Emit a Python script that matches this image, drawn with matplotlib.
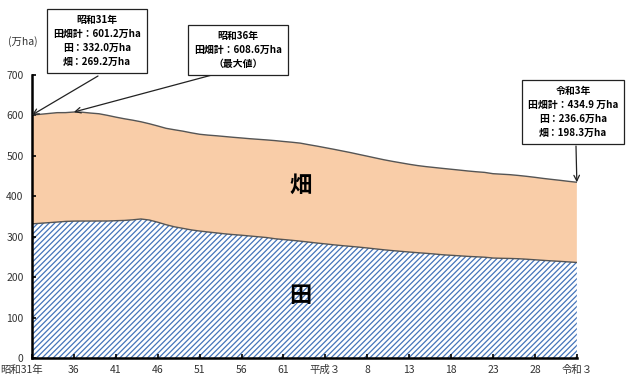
import matplotlib
matplotlib.use("Agg")
import matplotlib.pyplot as plt
from matplotlib.transforms import ScaledTranslation

plt.rcParams['font.family'] = ['Noto Sans CJK JP', 'DejaVu Sans']
plt.rcParams['hatch.linewidth'] = 0.9

# 年次 (昭和31年=1956 ～ 令和3年=2021)
years = list(range(1956, 2022))

# 田畑計 (万ha)
total = [601.2, 603.0, 605.0, 607.0, 607.1, 608.6, 608.1, 606.0, 604.3, 600.4,
         596.0, 592.0, 588.5, 584.5, 579.6, 574.1, 568.3, 564.7, 561.3, 557.2,
         553.6, 551.5, 549.9, 548.0, 546.1, 544.4, 542.6, 541.1, 539.6, 537.9,
         535.8, 533.9, 531.7, 527.9, 524.3, 520.4, 516.5, 512.4, 508.3, 503.8,
         499.4, 494.9, 490.5, 486.6, 483.0, 479.4, 476.2, 473.6, 471.4, 469.2,
         467.1, 465.0, 462.8, 460.9, 459.3, 456.1, 454.9, 453.7, 451.8, 449.6,
         447.1, 444.4, 442.0, 439.7, 437.2, 434.9]

# 田 (万ha)
paddy = [332.0, 333.5, 335.0, 336.5, 338.1, 338.8, 339.0, 339.0, 339.1, 339.1,
         339.9, 340.5, 342.0, 344.1, 341.5, 336.1, 329.9, 324.7, 320.9, 317.1,
         314.3, 311.9, 309.7, 307.4, 305.5, 303.9, 302.0, 300.1, 298.2, 295.2,
         293.3, 291.4, 289.3, 287.0, 284.6, 282.5, 280.2, 278.2, 276.4, 274.5,
         272.4, 270.1, 267.9, 265.9, 264.1, 262.4, 260.7, 259.2, 257.5, 255.6,
         254.3, 253.0, 251.6, 250.6, 249.6, 247.5, 246.9, 246.5, 245.8, 244.6,
         243.2, 241.8, 240.5, 239.3, 237.9, 236.6]

tick_years = list(range(1956, 2022, 5))
tick_labels = ['昭和31年', '36', '41', '46', '51', '56', '61', '平成３',
               '8', '13', '18', '23', '28', '令和３']

fig = plt.figure(figsize=(6.27, 3.81), dpi=100)
ax = fig.add_axes([0.051, 0.060, 0.869, 0.743])

# 畑 (田の上に積み上げ)
ax.fill_between(years, paddy, total, facecolor='#F9CDA8', edgecolor='none')
ax.plot(years, total, color='#555555', lw=1.0)

# 田 (斜線)
ax.fill_between(years, 0, paddy, facecolor='white', edgecolor='#4474BA',
                hatch='//////', linewidth=0)
ax.plot(years, paddy, color='#555555', lw=1.0)

ax.set_xlim(1956, 2021)
ax.set_ylim(0, 700)
ax.set_yticks(range(0, 701, 100))
ax.set_xticks(tick_years)
ax.set_xticklabels(tick_labels)
ax.tick_params(axis='both', direction='in', length=3, width=1.2,
               labelsize=7.5, labelcolor='#333333')
ax.tick_params(axis='y', pad=6)
ax.tick_params(axis='x', pad=5)
first = ax.get_xticklabels()[0]
first.set_transform(first.get_transform() + ScaledTranslation(-0.10, 0, fig.dpi_scale_trans))

for side in ['top', 'right']:
    ax.spines[side].set_visible(False)
for side in ['left', 'bottom']:
    ax.spines[side].set_linewidth(1.8)

fig.text(0.012, 0.882, '(万ha)', fontsize=7.5, color='#333333')

ax.text(1988, 427, '畑', fontsize=16, fontweight='bold', ha='center', va='center')
ax.text(1988, 155, '田', fontsize=16, fontweight='bold', ha='center', va='center')

# 注記ボックス
box = dict(boxstyle='square,pad=0.6', facecolor='white', edgecolor='#222222', lw=0.9)
note = dict(fontsize=7.1, fontweight='bold', ha='center', va='center',
            linespacing=1.5, bbox=box, transform=None)
fig.text(97, 340, '昭和31年\n田畑計：601.2万ha\n田：332.0万ha\n畑：269.2万ha', **note)
fig.text(238, 331, '昭和36年\n田畑計：608.6万ha\n（最大値）', **note)
fig.text(573, 269, '令和3年\n田畑計：434.9 万ha\n田：236.6万ha\n畑：198.3万ha', **note)

# 注記から各点への矢印
arrow = dict(arrowstyle='->', color='#222222', lw=0.9, shrinkA=0, shrinkB=0)
ax.annotate('', xy=(years[0], total[0]), xytext=(98, 305),
            textcoords='figure pixels', arrowprops=arrow)
ax.annotate('', xy=(years[5], total[5]), xytext=(212, 306),
            textcoords='figure pixels', arrowprops=arrow)
ax.annotate('', xy=(years[-1], total[-1]), xytext=(576, 235),
            textcoords='figure pixels', arrowprops=arrow)

fig.savefig('out.png', dpi=100)
